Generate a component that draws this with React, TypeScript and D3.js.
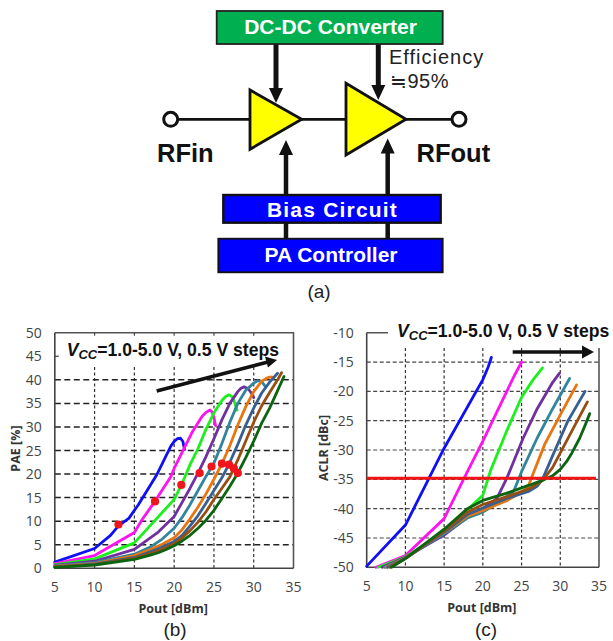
import React from "react";
import * as d3 from "d3";

const W = 613;
const H = 641;

// PAE vs Pout, one [Pout, PAE] list per Vcc step
const paeSeries: [number, number][][] = [
  [[5, 1.3], [10, 4.2], [12, 7], [13, 9], [14.3, 10.6], [15.5, 13.5], [17.8, 19.8], [19.6, 26], [20, 26.9], [20.4, 27.5], [20.8, 27.6], [21.1, 26.9], [21.3, 25.2]],
  [[5, 1], [10, 2.7], [15, 7.6], [16, 10.4], [17.5, 14], [19.6, 19.5], [20, 21.2], [22.3, 29], [23.5, 32.2], [24, 33.1], [24.5, 33.6], [24.8, 33.1], [25, 32], [25.2, 30.3]],
  [[5, 0.8], [10, 2], [15, 5.4], [20, 14.6], [21, 18], [22, 22], [23, 25.4], [24, 29.5], [25, 33], [26, 35.6], [26.5, 36.5], [26.9, 36.8], [27.3, 36.4], [27.6, 35.2], [27.9, 33.6]],
  [[5, 0.6], [10, 1.5], [15, 4], [18, 7.7], [20, 11], [21, 14], [22, 17], [23, 20.2], [24, 23.7], [25, 27.5], [26, 31.5], [27, 35], [28, 37.5], [28.4, 38.2], [28.8, 38.5], [29.3, 38.1], [29.7, 37.2], [30, 36.2]],
  [[5, 0.5], [10, 1.2], [15, 3], [17, 4.5], [18.5, 6.2], [20, 8.5], [21, 10.8], [22, 13.5], [23, 16.5], [24, 19.5], [25, 22.3], [26, 26.5], [27, 31], [28, 35], [29, 37.8], [30, 39.3], [30.5, 39.8], [31, 39.6], [31.5, 38.5]],
  [[5, 0.4], [10, 1], [15, 2.7], [17, 4], [18.5, 5.1], [20, 6.5], [21, 8.2], [22, 10.5], [23, 13], [24, 15.8], [25, 18.9], [26, 22.2], [27, 26], [28, 30.4], [29, 34.3], [30, 37.5], [31, 39.7], [31.7, 40.4], [32.1, 40.6], [32.5, 40.5]],
  [[5, 0.3], [10, 0.9], [15, 2.3], [17, 3.5], [18.5, 4.5], [20, 5.7], [21, 7], [22, 9], [23, 11.2], [24, 13.8], [25, 16.5], [26, 19.2], [27, 22.5], [28, 26.3], [29, 30.4], [30, 34], [31, 37.2], [32, 39.5], [33, 41.4]],
  [[5, 0.3], [10, 0.8], [15, 2.1], [17, 3.1], [18.5, 4.1], [20, 5.2], [21, 6.5], [22, 8], [23, 9.8], [24, 12], [25, 14.6], [26, 17], [27, 19.4], [28, 23], [29, 27], [30, 31], [31, 34.5], [32, 37.3], [33, 40], [33.5, 41.5]],
  [[5, 0.2], [10, 0.7], [15, 1.9], [17, 2.8], [18, 3.3], [19, 4], [20, 4.8], [21, 5.8], [22, 7], [23, 8.5], [24, 10.2], [25, 12.3], [26, 14.8], [27, 17.4], [28, 20.2], [29, 23.5], [30, 27], [31, 30.8], [32, 34], [33, 37.7], [33.8, 40.7]],
];

const aclrSeries: [number, number][][] = [
  [[5, -49.8], [10, -42.8], [15, -29.7], [20, -18], [20.7, -15.8], [21.1, -14.2]],
  [[6.2, -50], [10, -48], [15, -41.7], [17.5, -35], [20, -28.5], [22, -23], [24, -17.5], [25, -15]],
  [[6.5, -50], [10, -48.2], [15, -44], [18, -40.2], [20, -37.7], [21, -33.5], [23, -27], [25, -21], [26.5, -18], [27.7, -16]],
  [[7, -50], [10, -48.3], [15, -44.5], [18, -41.5], [20, -40], [21.8, -38.3], [23.1, -34.8], [25.2, -28], [27, -23], [29, -18.5], [29.9, -16.9]],
  [[7.3, -50], [10, -48.4], [15, -44.3], [18, -41.6], [20, -40.6], [22, -39], [24, -37], [25, -33.7], [27, -28], [29, -23], [31.2, -17.8]],
  [[7.5, -50], [10, -48.4], [15, -44.1], [18, -41.3], [20, -40.3], [23, -38.7], [25, -37.2], [25.8, -36.4], [26.5, -34], [28, -29], [30, -24], [32.1, -18.9]],
  [[7.7, -50], [10, -48.5], [15, -44], [18, -41], [20, -39.9], [23, -38.3], [26, -37], [27, -36.2], [27.7, -35], [29, -31], [31, -25], [33.2, -20]],
  [[8, -50], [10, -48.5], [15, -43.8], [18, -40.6], [20, -39.3], [23, -38], [26, -36.6], [27.7, -35.2], [29, -33], [30, -30.5], [32, -25.5], [33.5, -21.8]],
  [[8.2, -50], [10, -48.5], [15, -43.5], [18, -40], [20, -38.6], [23, -37.4], [26, -36], [28, -35], [29, -34.4], [30, -33.3], [30.8, -32], [31.5, -30.5], [32.5, -28], [33.2, -25.8], [33.8, -23.8]],
];

const seriesColors = ["#0f0ff5", "#ff12f0", "#1cf01c", "#7030a0", "#31859c", "#e9750f", "#376092", "#974e12", "#0b6410"];

const paePeaks: [number, number][] = [[13, 9.3], [17.6, 14.2], [20.9, 17.7], [23.2, 20.2], [24.7, 21.6], [26, 22.2], [26.9, 22], [27.5, 21.2], [28, 20.2]];

const aclrLimit = -34.8;
const xTicks = [5, 10, 15, 20, 25, 30, 35];
const paeTicks = [0, 5, 10, 15, 20, 25, 30, 35, 40, 45, 50];
const aclrTicks = [-50, -45, -40, -35, -30, -25, -20, -15, -10];

const labelFont = "Open Sans, sans-serif";
const titleFont = "Liberation Sans, Arial, sans-serif";

const xB = d3.scaleLinear().domain([5, 35]).range([54.8, 293.5]);
const yB = d3.scaleLinear().domain([0, 50]).range([568.3, 332.7]);
const xC = d3.scaleLinear().domain([5, 35]).range([366.7, 599]);
const yC = d3.scaleLinear().domain([-50, -10]).range([567.3, 332.7]);

function VccLabel({ x, y }: { x: number; y: number }) {
  return (
    <text x={x} y={y} fontFamily={titleFont} fontWeight="bold" fontSize={17.6} fill="#111">
      <tspan fontStyle="italic">V</tspan>
      <tspan fontStyle="italic" fontSize={13} dy={3}>CC</tspan>
      <tspan dy={-3}>=1.0-5.0 V, 0.5 V steps</tspan>
    </text>
  );
}

function Chart({
  x,
  y,
  series,
  yTicks,
  yLabel,
  gridTop,
  yLabelX,
  frame,
  hDash,
  hColor,
  hWidth,
}: {
  x: d3.ScaleLinear<number, number>;
  y: d3.ScaleLinear<number, number>;
  series: [number, number][][];
  yTicks: number[];
  yLabel: string;
  gridTop: number;
  yLabelX: number;
  frame: string;
  hDash: string;
  hColor: string;
  hWidth: number;
}) {
  const line = d3.line<[number, number]>().x(d => x(d[0])).y(d => y(d[1]));
  const [x0, x1] = x.range();
  const [y0, yTop] = y.range();
  const innerX = xTicks.slice(1, -1);
  const innerY = yTicks.slice(1, -1);
  return (
    <g>
      <g stroke="#333" strokeWidth={1.2} strokeDasharray="3 2.5">
        {innerX.map(t => (
          <line key={t} x1={x(t)} x2={x(t)} y1={gridTop} y2={y0} />
        ))}
      </g>
      <g stroke={hColor} strokeWidth={hWidth} strokeDasharray={hDash}>
        {innerY.filter(t => y(t) > gridTop).map(t => (
          <line key={t} x1={x0} x2={x1} y1={y(t)} y2={y(t)} />
        ))}
      </g>
      <path d={frame} fill="none" stroke="#555" strokeWidth={1.6} />
      <path d={`M${x0},${yTop}V${y0}H${x1}`} fill="none" stroke="#444" strokeWidth={1.6} />
      {series.map((s, i) => (
        <path key={i} d={line(s) ?? ""} fill="none" stroke={seriesColors[i]} strokeWidth={2.8} strokeLinecap="round" strokeLinejoin="round" />
      ))}
      <g fontFamily={labelFont} fontSize={14} fill="#444">
        {xTicks.map(t => (
          <text key={t} x={x(t)} y={y0 + 23.5} textAnchor="middle">{t}</text>
        ))}
        {yTicks.map(t => (
          <text key={t} x={x0 - 13} y={y(t) + 5} textAnchor="end">{t}</text>
        ))}
      </g>
      <text x={(x0 + x1) / 2 - 1} y={y0 + 44.5} textAnchor="middle" fontFamily={labelFont} fontWeight="bold" fontSize={12.5} fill="#333">Pout [dBm]</text>
      <text
        transform={`translate(${yLabelX},${(y0 + yTop) / 2 - 2}) rotate(-90)`}
        textAnchor="middle"
        fontFamily={labelFont}
        fontWeight="bold"
        fontSize={12.5}
        fill="#333"
      >
        {yLabel}
      </text>
    </g>
  );
}

function Diagram() {
  const midY = 119.3;
  return (
    <g>
      <g stroke="#111" strokeWidth={2.8} fill="none">
        <line x1={177} x2={250} y1={midY} y2={midY} />
        <line x1={301} x2={346} y1={midY} y2={midY} />
        <line x1={406} x2={452} y1={midY} y2={midY} />
        <circle cx={170.7} cy={midY} r={7} fill="#fff" strokeWidth={3} />
        <circle cx={459} cy={midY} r={7} fill="#fff" strokeWidth={3} />
        <line x1={276} x2={276} y1={44} y2={92} strokeWidth={5} />
        <line x1={378.3} x2={378.3} y1={44} y2={90} strokeWidth={5} />
        <line x1={286} x2={286} y1={150} y2={239} strokeWidth={4.5} />
        <line x1={387.7} x2={387.7} y1={148} y2={239} strokeWidth={4.5} />
      </g>
      <g fill="#ffff00" stroke="#111" strokeWidth={2.8}>
        <path d="M250,90V149.3L301.7,119.3Z" />
        <path d="M346,83.3V155L406,119.3Z" />
      </g>
      <g fill="#111">
        <path d="M276,103L269,88H283Z" />
        <path d="M378.3,100L371.3,85H385.3Z" />
        <path d="M286,140L279,155H293Z" />
        <path d="M387.7,138.5L380.7,153.5H394.7Z" />
      </g>
      <rect x={216.7} y={11} width={226} height={33} fill="#00b050" stroke="#222" strokeWidth={1.8} />
      <rect x={223.3} y={195} width={217.4} height={27.7} fill="#0000ff" stroke="#111" strokeWidth={2.4} />
      <rect x={218.3} y={238.7} width={224.4} height={33.6} fill="#0000ff" stroke="#111" strokeWidth={1.8} />
      <g fontFamily={titleFont} fontWeight="bold" fill="#fff" textAnchor="middle">
        <text x={330.5} y={34} fontSize={21}>DC-DC Converter</text>
        <text x={332.5} y={216.5} fontSize={21} letterSpacing={1.2}>Bias Circuit</text>
        <text x={331} y={262} fontSize={21}>PA Controller</text>
      </g>
      <g fontFamily={titleFont} fontSize={20} fill="#222">
        <text x={389} y={63.5} letterSpacing={1}>Efficiency</text>
        <text x={390} y={88} letterSpacing={0.5}>≒95%</text>
      </g>
      <g fontFamily={titleFont} fontWeight="bold" fontSize={25.5} fill="#111">
        <text x={157} y={162}>RFin</text>
        <text x={416.5} y={162}>RFout</text>
      </g>
    </g>
  );
}

export default function App() {
  const bFrame = `M${xB(5)},${yB(50)}H${xB(35)}V${yB(0)}`;
  const cFrame = `M${xC(5)},${yC(-10)}H388M${xC(35)},348V${yC(-50)}`;
  return (
    <svg width={W} height={H} viewBox={`0 0 ${W} ${H}`} style={{ position: "absolute", left: 0, top: 0, background: "#fff" }}>
      <Diagram />
      <Chart x={xB} y={yB} series={paeSeries} yTicks={paeTicks} yLabel="PAE [%]" gridTop={367} yLabelX={20} frame={bFrame} hDash="6 3.5" hColor="#222" hWidth={1.5} />
      <Chart x={xC} y={yC} series={aclrSeries} yTicks={aclrTicks} yLabel="ACLR [dBc]" gridTop={348} yLabelX={327.5} frame={cFrame} hDash="4 2.5" hColor="#444" hWidth={1.2} />

      <g stroke="#444" strokeWidth={1.2}>
        {xTicks.slice(1, -1).map(t => (
          <line key={t} x1={xB(t)} x2={xB(t)} y1={yB(50)} y2={yB(50) + 3} />
        ))}
        <line x1={xB(5)} x2={xB(5) + 4} y1={yB(45)} y2={yB(45)} />
      </g>

      <g fill="#f0141c">
        {paePeaks.map(([px, py]) => (
          <circle key={px} cx={xB(px)} cy={yB(py)} r={4.1} />
        ))}
      </g>
      <line x1={xC(5)} x2={xC(34.6)} y1={yC(aclrLimit)} y2={yC(aclrLimit)} stroke="#f01414" strokeWidth={3} />

      <VccLabel x={66.7} y={356} />
      <VccLabel x={397} y={337} />

      <g stroke="#111" strokeWidth={3.6}>
        <line x1={156.7} y1={391} x2={268} y2={362} />
        <line x1={512.7} y1={352} x2={585} y2={352} />
      </g>
      <g fill="#111">
        <path d="M277,360L265,356.5L268,367.5Z" />
        <path d="M594,352L582,345.5V358.5Z" />
      </g>

      <g fontFamily={titleFont} fontSize={19} fill="#222" textAnchor="middle">
        <text x={319} y={298}>(a)</text>
        <text x={175} y={636}>(b)</text>
        <text x={486} y={636}>(c)</text>
      </g>
    </svg>
  );
}
